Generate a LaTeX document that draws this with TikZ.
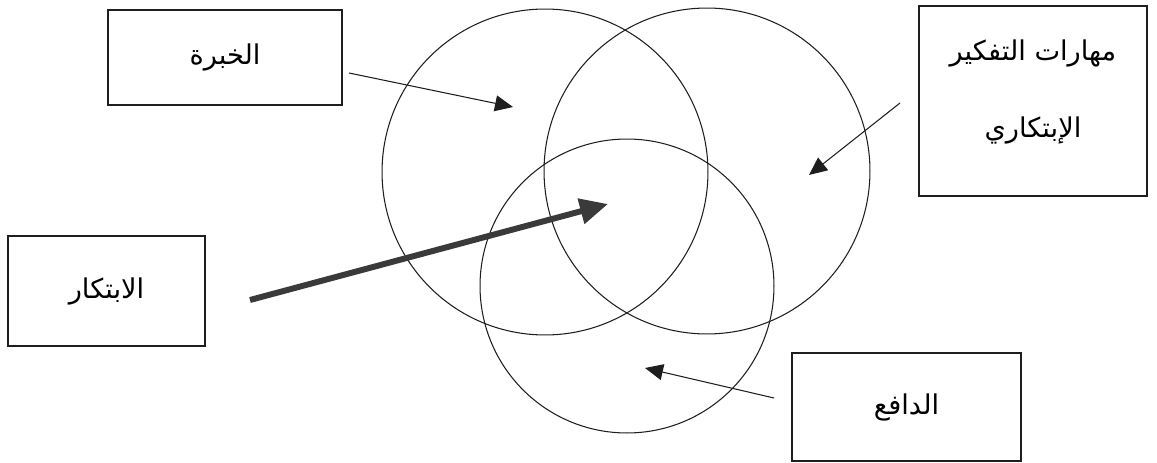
\documentclass[tikz,border=0pt]{standalone}
\usepackage{fontspec}
\usepackage{tikz}
\usetikzlibrary{arrows.meta,positioning,shapes,calc}
\newfontfamily\arabicfont[Script=Arabic]{DejaVu Sans}
\TeXXeTstate=1
\definecolor{ink}{HTML}{1E1E1E}
\definecolor{inkgray}{HTML}{3A3A3A}
\tikzset{
  labelbox/.style={draw=ink,fill=white,line width=0.9pt,
                   align=center,inner sep=4pt,
                   font=\arabicfont\fontsize{15.5}{18}\selectfont},
  ring/.style={draw=ink,circle,line width=0.6pt,inner sep=0pt},
  thinarr/.style={-{Triangle[length=3.6mm,width=3.2mm]},line width=0.6pt,color=ink},
  fatarr/.style={-{Triangle[length=5.6mm,width=5mm]},line width=3.4pt,color=inkgray}
}

\begin{document}
\begin{tikzpicture}[x=0.02cm,y=-0.02cm]
  \useasboundingbox (0,0) rectangle (1157,463);

  % the three rings
  \node[ring,minimum size=6.52cm] (expc) at (545,172) {};
  \node[ring,minimum size=6.52cm] (skillc) at (707,171) {};
  \node[ring,minimum size=5.88cm] (motc) at (627,286) {};

  % label boxes
  \node[labelbox,minimum width=4.68cm,minimum height=1.9cm] (expbox) at (225,57.5)
    {\beginR الخبرة\endR};
  \node[labelbox,minimum width=4.56cm,minimum height=3.8cm] (skillbox) at (1033,101) {%
    \beginR مهارات التفكير\endR\\[26pt]
    \beginR الإبتكاري\endR\\[-4pt]{}};
  \node[labelbox,minimum width=3.94cm,minimum height=2.2cm] (creabox) at (106.5,291)
    {\beginR الابتكار\endR};
  \node[labelbox,minimum width=4.58cm,minimum height=2.16cm] (motbox) at (906.5,407)
    {\beginR الدافع\endR};

  % arrow ends
  \coordinate (expfrom) at (349,73);
  \coordinate (exptip) at (513,107);
  \coordinate (skillfrom) at (900,103);
  \coordinate (skilltip) at (809,175);
  \coordinate (creafrom) at (250,300);
  \coordinate (creatip) at (608,204);
  \coordinate (motfrom) at (774,398);
  \coordinate (mottip) at (645,368);

  \draw[thinarr] (expfrom) -- (exptip);
  \draw[thinarr] (skillfrom) -- (skilltip);
  \draw[thinarr] (motfrom) -- (mottip);
  \draw[fatarr] (creafrom) -- (creatip);
\end{tikzpicture}
\end{document}
